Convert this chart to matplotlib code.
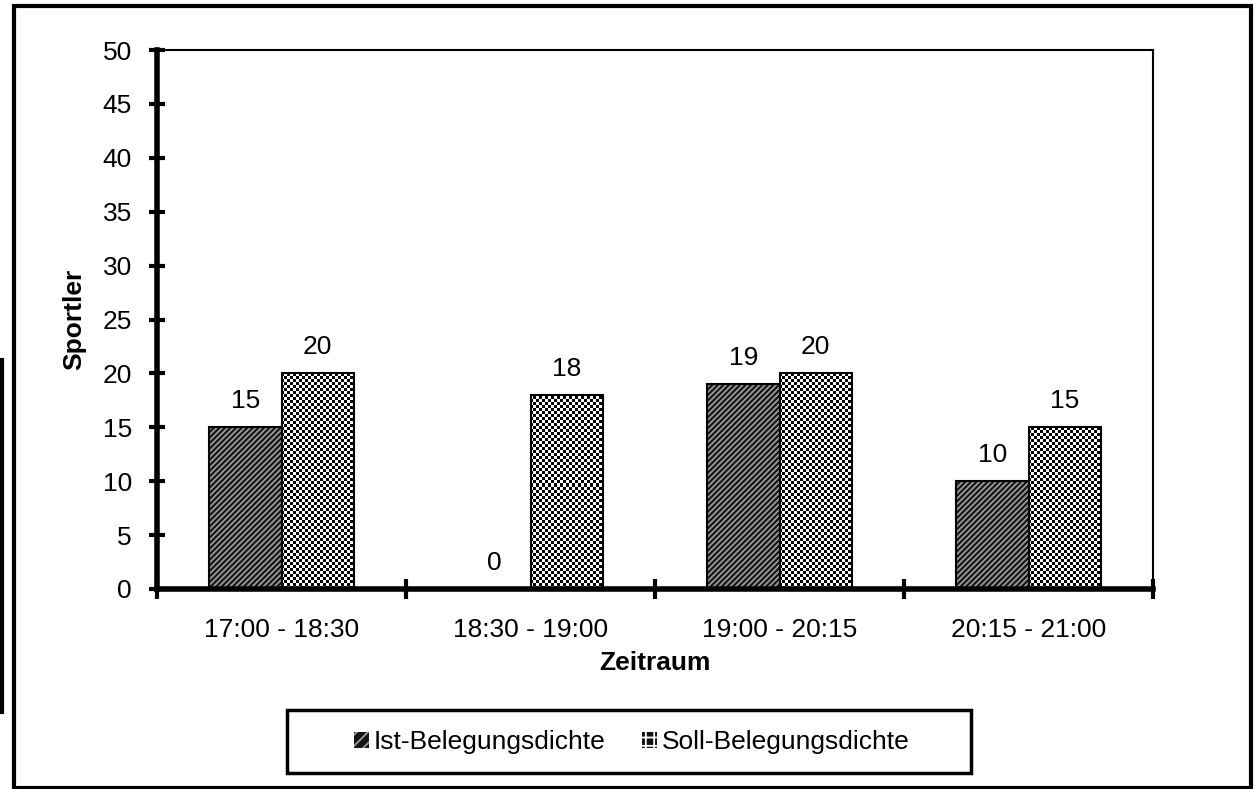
import matplotlib
matplotlib.use("Agg")
import matplotlib.pyplot as plt
from matplotlib.patches import Rectangle, Patch
from matplotlib.lines import Line2D
import numpy as np

plt.rcParams['font.family'] = ['Liberation Sans', 'DejaVu Sans']
plt.rcParams['hatch.linewidth'] = 1.3

categories = ["17:00 - 18:30", "18:30 - 19:00", "19:00 - 20:15", "20:15 - 21:00"]
ist_values = [15, 0, 19, 10]
soll_values = [20, 18, 20, 15]
series_names = ["Ist-Belegungsdichte", "Soll-Belegungsdichte"]
y_ticks = list(range(0, 55, 5))

W, H = 1256, 789
fig = plt.figure(figsize=(W / 100, H / 100), dpi=100)
ax_l, ax_r, ax_t, ax_b = 157, 1153, 50, 589
ax = fig.add_axes([ax_l / W, (H - ax_b) / H, (ax_r - ax_l) / W, (ax_b - ax_t) / H])

x = np.arange(len(categories))
bw = 0.29
fs = 19

ax.set_xlim(-0.5, len(categories) - 0.5)
ax.set_ylim(0, 50)

# Ist bars: dark with diagonal light lines
ax.bar(x - bw / 2, ist_values, bw, color='#141414', hatch='//////', edgecolor='#9a9a9a', linewidth=0, zorder=2)
ax.bar(x - bw / 2, ist_values, bw, fill=False, edgecolor='black', linewidth=1.5, zorder=4)

# Soll bars: checkerboard texture clipped to bars
soll_bars = ax.bar(x + bw / 2, soll_values, bw, color='white', linewidth=0, zorder=2)
cell = 3
nx = (ax_r - ax_l) // cell
ny = int(np.ceil((ax_b - ax_t) / cell))
checker = (np.add.outer(np.arange(ny), np.arange(nx)) % 2).astype(float)
ymax_img = 50 * ny * cell / (ax_b - ax_t)
for b in soll_bars:
    im = ax.imshow(checker, cmap='gray', vmin=0, vmax=1, extent=(-0.5, len(categories) - 0.5, 0, ymax_img),
                   origin='lower', interpolation='nearest', aspect='auto', zorder=3)
    im.set_clip_path(b)
ax.set_xlim(-0.5, len(categories) - 0.5)
ax.set_ylim(0, 50)
ax.bar(x + bw / 2, soll_values, bw, fill=False, edgecolor='black', linewidth=1.5, zorder=4)

for xi, v in zip(x, ist_values):
    ax.annotate(str(v), (xi - bw / 2, v), xytext=(0, 19), textcoords='offset points',
                ha='center', va='center', fontsize=fs)
for xi, v in zip(x, soll_values):
    ax.annotate(str(v), (xi + bw / 2, v), xytext=(0, 19), textcoords='offset points',
                ha='center', va='center', fontsize=fs)

ax.set_yticks(y_ticks)
ax.set_yticklabels([str(t) for t in y_ticks], fontsize=fs)
ax.tick_params(axis='y', direction='inout', length=12, width=3, pad=12)

ax.set_xticks(np.arange(len(categories) + 1) - 0.5)
ax.set_xticklabels([])
ax.set_xticks(x, minor=True)
ax.set_xticklabels(categories, minor=True, fontsize=fs)
ax.tick_params(axis='x', which='major', direction='inout', length=14, width=3)
ax.tick_params(axis='x', which='minor', length=0, pad=21)

ax.spines['left'].set_linewidth(4)
ax.spines['bottom'].set_linewidth(4)
ax.spines['top'].set_linewidth(1.5)
ax.spines['right'].set_linewidth(1.5)
for s in ax.spines.values():
    s.set_zorder(5)

ax.set_ylabel("Sportler", fontsize=fs, fontweight='bold', labelpad=12)
ax.set_xlabel("Zeitraum", fontsize=fs, fontweight='bold', labelpad=6)

# legend frame and entries
fig.patches.append(Rectangle((287 / W, (H - 773) / H), (971 - 287) / W, (773 - 710) / H,
                             transform=fig.transFigure, fill=False, edgecolor='black', linewidth=2.5))
handles = [Patch(facecolor='#141414', hatch='///', edgecolor='#9a9a9a', linewidth=0),
           Patch(facecolor='#111111', hatch='++', edgecolor='white', linewidth=0)]
fig.legend(handles, series_names, loc='center', bbox_to_anchor=(632 / W, (H - 742) / H),
           ncol=2, frameon=False, fontsize=fs, handlelength=0.55, handleheight=0.55,
           handletextpad=0.2, columnspacing=1.4)

# outer border
fig.patches.append(Rectangle((14 / W, 1 / H), (1251 - 14) / W, 782 / H,
                             transform=fig.transFigure, fill=False, edgecolor='black', linewidth=3))
fig.lines.append(Line2D([2 / W, 2 / W], [(H - 360) / H, (H - 712) / H], transform=fig.transFigure,
                        color='black', linewidth=3))

fig.savefig("out.png", dpi=100)
